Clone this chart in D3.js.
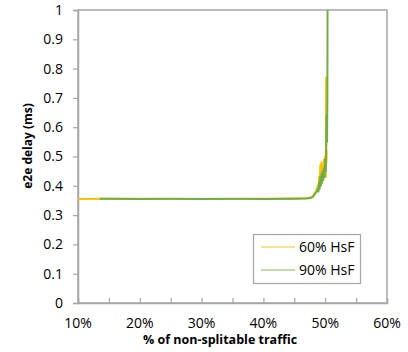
<!DOCTYPE html>
<html>
<head>
<meta charset="utf-8">
<script src="https://cdn.jsdelivr.net/npm/d3@7"></script>
<style>
  body { margin: 0; background: #fff; }
  text { font-family: "Open Sans", sans-serif; fill: #000; }
</style>
</head>
<body>
<div id="chart"></div>
<script>
// tick labels / categories
const xTicks = [10, 15, 20, 25, 30, 35, 40, 45, 50, 55, 60];
const xLabels = [10, 20, 30, 40, 50, 60];
const yTicks = [0, 0.1, 0.2, 0.3, 0.4, 0.5, 0.6, 0.7, 0.8, 0.9, 1];
const seriesNames = ["60% HsF", "90% HsF"];

// % of non-splitable traffic
const xHsF60 = [10, 15, 20, 25, 30, 35, 40, 45, 47, 47.6, 48.0, 48.3, 48.6, 48.8, 48.9, 49.0, 49.1, 49.2, 49.3, 49.4, 49.5, 49.6, 49.7, 49.8, 49.9, 50.0, 50.1, 50.15, 50.2, 50.25];
const yHsF60 = [0.355, 0.356, 0.356, 0.355, 0.355, 0.355, 0.356, 0.357, 0.358, 0.360, 0.365, 0.375, 0.385, 0.40, 0.39, 0.43, 0.40, 0.47, 0.42, 0.48, 0.43, 0.46, 0.44, 0.49, 0.45, 0.50, 0.43, 0.77, 0.48, 0.52];

const xHsF90 = [13.5, 15, 20, 25, 30, 35, 40, 45, 47, 47.6, 48.0, 48.3, 48.6, 48.8, 48.9, 49.0, 49.1, 49.2, 49.3, 49.4, 49.5, 49.6, 49.7, 49.8, 49.9, 50.0, 50.1, 50.2, 50.3, 50.35, 50.4];
const yHsF90 = [0.356, 0.356, 0.355, 0.356, 0.355, 0.356, 0.355, 0.356, 0.357, 0.358, 0.362, 0.37, 0.38, 0.39, 0.38, 0.41, 0.39, 0.43, 0.40, 0.44, 0.41, 0.45, 0.42, 0.46, 0.43, 0.49, 0.45, 0.64, 0.55, 0.70, 1.2];

const colors = ["#FFC000", "#70AD47"];
const legendColors = ["#FFD966", "#A9D18E"];

const width = 408, height = 352;
const margin = { top: 10, right: 21, bottom: 49, left: 78 };

const svg = d3.select("#chart")
    .append("svg")
    .attr("width", width)
    .attr("height", height);

const x = d3.scaleLinear().domain([10, 60]).range([margin.left, width - margin.right]);
const y = d3.scaleLinear().domain([0, 1]).range([height - margin.bottom, margin.top]);

// plot frame
svg.append("rect")
    .attr("x", margin.left)
    .attr("y", margin.top)
    .attr("width", x(60) - x(10))
    .attr("height", y(0) - y(1))
    .attr("fill", "none")
    .attr("stroke", "#A6A6A6")
    .attr("stroke-width", 1.5);

// x axis: ticks every 5%, labels every 10%
const xAxis = svg.append("g")
    .attr("transform", `translate(0,${y(0)})`)
    .call(d3.axisBottom(x).tickValues(xTicks).tickSize(-5).tickFormat(""));
xAxis.select(".domain").attr("stroke", "#A6A6A6").attr("stroke-width", 1.5);
xAxis.selectAll(".tick line").attr("stroke", "#A6A6A6").attr("stroke-width", 1.2);

svg.append("g")
    .selectAll("text")
    .data(xLabels)
    .join("text")
    .attr("x", d => x(d))
    .attr("y", y(0) + 25)
    .attr("text-anchor", "middle")
    .style("font-size", "14px")
    .text(d => d + "%");

// y axis
const yAxis = svg.append("g")
    .attr("transform", `translate(${margin.left},0)`)
    .call(d3.axisLeft(y).tickValues(yTicks).tickSize(5).tickPadding(10)
        .tickFormat(d => d === 0 || d === 1 ? String(d) : d3.format(".1f")(d)));
yAxis.select(".domain").attr("stroke", "#A6A6A6").attr("stroke-width", 1.5);
yAxis.selectAll(".tick line").attr("stroke", "#A6A6A6").attr("stroke-width", 1.2);
yAxis.selectAll(".tick text")
    .style("font-size", "14px")
    .style("font-family", "'Open Sans', sans-serif")
    .attr("fill", "#000");

// axis titles
svg.append("text")
    .attr("x", 220)
    .attr("y", 344)
    .attr("text-anchor", "middle")
    .style("font-size", "12.5px")
    .style("font-weight", "bold")
    .text("% of non-splitable traffic");

svg.append("text")
    .attr("transform", "translate(32,146) rotate(-90)")
    .attr("text-anchor", "middle")
    .style("font-size", "12px")
    .style("font-weight", "bold")
    .text("e2e delay (ms)");

// lines, clipped to the plot area
svg.append("clipPath").attr("id", "plot-clip")
    .append("rect")
    .attr("x", margin.left)
    .attr("y", margin.top)
    .attr("width", x(60) - x(10))
    .attr("height", y(0) - y(1));

const line = d3.line().x(d => x(d[0])).y(d => y(d[1]));
const series = [d3.zip(xHsF60, yHsF60), d3.zip(xHsF90, yHsF90)];

svg.append("g")
    .attr("clip-path", "url(#plot-clip)")
    .selectAll("path")
    .data(series)
    .join("path")
    .attr("d", line)
    .attr("fill", "none")
    .attr("stroke", (d, i) => colors[i])
    .attr("stroke-width", 2)
    .attr("stroke-linejoin", "round");

// legend
const legend = svg.append("g");
legend.append("rect")
    .attr("x", 253.5)
    .attr("y", 234.5)
    .attr("width", 107)
    .attr("height", 49)
    .attr("fill", "#fff")
    .attr("stroke", "#A6A6A6")
    .attr("stroke-width", 1.2);

const items = legend.selectAll("g.item")
    .data(seriesNames)
    .join("g")
    .attr("class", "item")
    .attr("transform", (d, i) => `translate(0,${247 + i * 23})`);
items.append("line")
    .attr("x1", 261).attr("x2", 295)
    .attr("y1", 0).attr("y2", 0)
    .attr("stroke", (d, i) => legendColors[i])
    .attr("stroke-width", 1.5);
items.append("text")
    .attr("x", 299)
    .attr("y", 5)
    .style("font-size", "14px")
    .text(d => d);
</script>
</body>
</html>
